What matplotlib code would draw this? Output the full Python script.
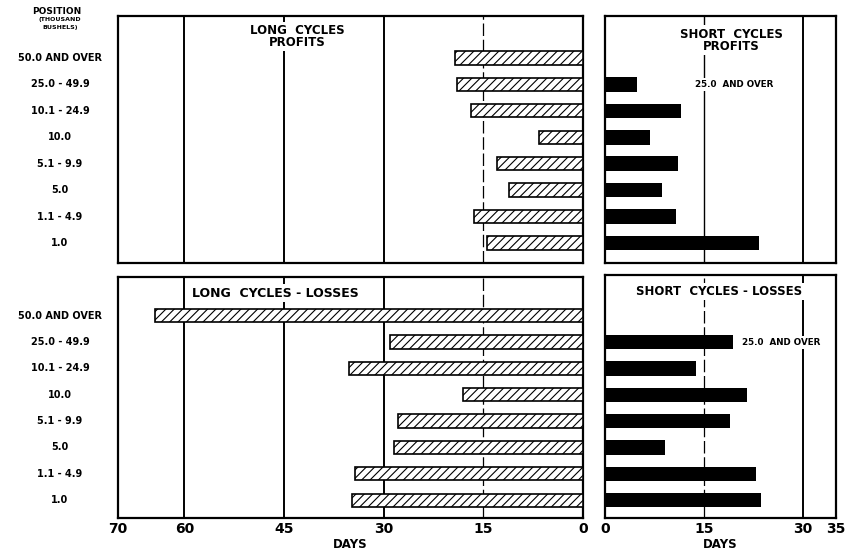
import numpy as np
import matplotlib
matplotlib.use('Agg')
from matplotlib import pyplot as plt
import matplotlib.transforms as mtransforms

# position classes (thousand bushels)
positions = ['50.0 AND OVER', '25.0 - 49.9', '10.1 - 24.9', '10.0',
             '5.1 - 9.9', '5.0', '1.1 - 4.9', '1.0']

# average duration in days
long_profits = [19.2, 18.9, 16.9, 6.6, 13.0, 11.1, 16.4, 14.4]
long_losses = [64.4, 29.0, 35.3, 18.1, 27.9, 28.4, 34.3, 34.8]
# short cycles: first bar covers 25.0 and over, so no 50.0 row
short_profits = [4.9, 11.5, 6.8, 11.1, 8.7, 10.8, 23.3]
short_losses = [19.4, 13.8, 21.5, 19.0, 9.1, 22.9, 23.6]

long_ticks = [70, 60, 45, 30, 15, 0]
short_ticks = [0, 15, 30, 35]

plt.rcParams['font.family'] = 'DejaVu Sans'
plt.rcParams['font.weight'] = 'bold'
plt.rcParams['hatch.linewidth'] = 0.8

fig = plt.figure(figsize=(8.5, 5.53), dpi=100)
W, H = 850., 553.

def box(x0, x1, y0, y1):
	return [x0/W, 1 - y1/H, (x1 - x0)/W, (y1 - y0)/H]

ax_lp = fig.add_axes(box(118, 583, 16, 263))
ax_sp = fig.add_axes(box(605, 836, 16, 263))
ax_ll = fig.add_axes(box(118, 583, 277, 518))
ax_sl = fig.add_axes(box(605, 836, 275, 518))

ypos = np.arange(len(positions))

for ax in [ax_lp, ax_sp, ax_ll, ax_sl]:
	for s in ax.spines.values():
		s.set_linewidth(1.6)
	ax.set_yticks([])
	ax.tick_params(axis='x', length=0, labelsize=10, pad=3)

for ax in [ax_lp, ax_ll]:
	ax.set_xlim(70, 0)
	ax.set_xticks(long_ticks)
for ax in [ax_sp, ax_sl]:
	ax.set_xlim(0, 35)
	ax.set_xticks(short_ticks)

ax_lp.set_ylim(7.76, -1.59)
ax_sp.set_ylim(7.76, -1.59)
ax_ll.set_ylim(7.68, -1.47)
ax_sl.set_ylim(7.68, -1.55)

ax_lp.set_xticklabels([])
ax_sp.set_xticklabels([])
ax_ll.set_xticklabels([str(t) for t in long_ticks], fontweight='bold')
ax_sl.set_xticklabels([str(t) for t in short_ticks], fontweight='bold')
for ax in [ax_ll, ax_sl]:
	ax.set_xlabel('DAYS', fontsize=8.5, fontweight='bold', labelpad=1)

# reference lines
for ax in [ax_lp, ax_ll]:
	for v in [60, 45, 30]:
		ax.axvline(v, color='black', lw=1.4, zorder=1)
	ax.axvline(15, color='black', lw=0.9, ls=(0, (10, 3)), zorder=1)
ax_sp.axvline(15, color='black', lw=1.0, zorder=1)
ax_sp.axvline(30, color='black', lw=1.4, zorder=1)
ax_sl.axvline(15, color='black', lw=0.9, ls=(0, (10, 3)), zorder=1)
ax_sl.axvline(30, color='black', lw=1.4, zorder=1)

# bars
ax_lp.barh(ypos, long_profits, height=0.5, color='white', edgecolor='black',
	hatch='////', lw=1.2, zorder=3)
ax_ll.barh(ypos, long_losses, height=0.5, color='white', edgecolor='black',
	hatch='////', lw=1.2, zorder=3)
ax_sp.barh(ypos[1:], short_profits, height=0.55, color='black', zorder=3)
ax_sl.barh(ypos[1:], short_losses, height=0.55, color='black', zorder=3)

# titles inside the panels
wb = dict(facecolor='white', edgecolor='none', pad=1.5)
ax_lp.text(43, -0.8, 'LONG  CYCLES\nPROFITS', ha='center', va='center',
	fontsize=8.5, linespacing=0.9, bbox=wb, zorder=4)
ax_ll.text(58.8, -0.86, 'LONG  CYCLES - LOSSES', ha='left', va='center',
	fontsize=9, bbox=wb, zorder=4)
ax_sp.text(19.2, -0.68, 'SHORT  CYCLES\nPROFITS', ha='center', va='center',
	fontsize=8.5, linespacing=0.9, bbox=wb, zorder=4)
ax_sl.text(17.3, -0.93, 'SHORT  CYCLES - LOSSES', ha='center', va='center',
	fontsize=8.5, bbox=wb, zorder=4)
ax_sp.text(13.6, 1, '25.0  AND OVER', ha='left', va='center', fontsize=6.3,
	bbox=wb, zorder=4)
ax_sl.text(20.8, 1, '25.0  AND OVER', ha='left', va='center', fontsize=6.3,
	bbox=wb, zorder=4)

# position labels in left margin
for ax in [ax_lp, ax_ll]:
	tr = mtransforms.blended_transform_factory(fig.transFigure, ax.transData)
	for y, lab in zip(ypos, positions):
		ax.text(60/W, y, lab, transform=tr, ha='center', va='center', fontsize=7)

fig.text(57/W, 1 - 12/H, 'POSITION', ha='center', va='center', fontsize=6.5)
fig.text(60/W, 1 - 20/H, '(THOUSAND', ha='center', va='center', fontsize=4.5)
fig.text(60/W, 1 - 28/H, 'BUSHELS)', ha='center', va='center', fontsize=4.5)

fig.savefig('out.png', dpi=100)
